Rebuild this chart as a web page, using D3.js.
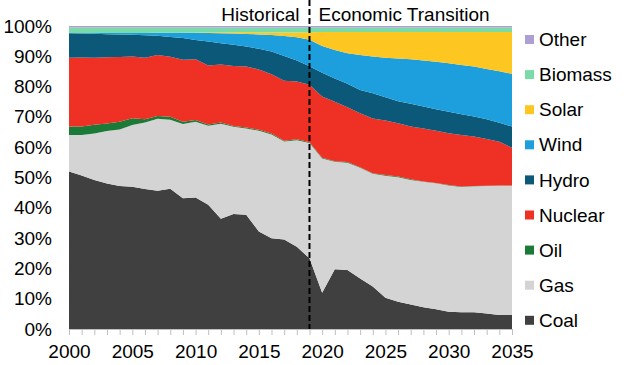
<!DOCTYPE html>
<html>
<head>
<meta charset="utf-8">
<script src="https://cdn.jsdelivr.net/npm/d3@7"></script>
<style>
  body { margin: 0; background: #fff; }
  text { font-family: Arial, "Liberation Sans", sans-serif; fill: #000; }
</style>
</head>
<body>
<script>
// data, shares of generation in %
var years = d3.range(2000, 2036);
var sources = ["Coal", "Gas", "Oil", "Nuclear", "Hydro", "Wind", "Solar", "Biomass", "Other"];
var colors = ["#404040", "#d4d4d4", "#1b7a37", "#ee3124", "#0b5878", "#1c9fdc", "#fdc620", "#7bdba8", "#ad9fd4"];

var coal = [52.0,50.8,49.4,48.3,47.5,47.2,46.4,45.7,46.4,43.3,43.5,41.1,36.5,38.0,37.7,32.1,29.9,29.4,27.0,23.3,
            12.0,19.7,19.5,16.7,14.0,10.3,9.0,8.1,7.2,6.5,5.7,5.5,5.5,5.1,4.6,4.6];
var gas = [12.0,13.4,15.4,17.4,18.7,20.5,22.0,23.8,22.9,24.6,25.1,26.2,31.4,28.8,28.5,33.2,34.1,32.2,35.0,38.0,
           44.3,35.5,35.4,36.5,37.2,40.3,41.1,41.1,41.4,41.6,41.7,41.4,41.6,42.1,42.7,42.7];
var oil = [2.8,2.8,2.9,2.5,2.6,2.2,1.1,0.9,1.0,0.7,0.6,0.4,0.4,0.3,0.3,0.3,0.3,0.3,0.3,0.3,
           0.2,0.2,0.2,0.2,0.2,0.2,0.2,0.2,0.1,0.1,0.1,0.1,0.1,0.1,0.1,0.1];
var nuclear = [22.7,22.9,22.2,21.9,21.5,20.5,20.4,20.2,19.8,20.5,20.1,19.5,19.2,19.8,20.1,19.9,19.5,19.7,19.0,18.9,
               20.2,19.6,18.1,17.8,18.1,18.0,17.6,17.4,17.5,17.2,17.1,17.0,16.3,15.4,14.4,12.4];
var hydro = [8.1,7.9,7.9,7.7,7.5,7.2,7.4,6.4,6.6,7.2,6.4,8.0,7.0,7.0,6.6,6.8,7.5,8.1,6.9,6.1,
             7.9,7.7,7.7,7.7,8.3,7.7,7.3,7.5,7.2,7.1,7.1,6.9,6.6,6.5,6.3,7.0];
var wind = [0.1,0.2,0.3,0.4,0.5,0.6,0.8,1.0,1.4,1.8,2.3,2.8,3.3,3.7,4.2,4.7,5.4,6.6,7.6,8.8,
            8.8,9.4,10.1,11.5,12.1,13.0,14.1,14.7,15.2,15.7,16.0,16.2,16.5,16.6,17.0,17.4];
var solar = [0,0,0,0,0,0,0,0,0,0,0.1,0.2,0.3,0.4,0.5,0.7,0.9,1.2,1.6,2.4,
             4.6,5.9,7.0,7.6,8.1,8.5,8.7,9.0,9.4,9.8,10.3,10.9,11.4,12.2,12.9,13.8];
var biomass = [1.8,1.8,1.8,1.8,1.8,1.8,1.8,1.7,1.7,1.7,1.7,1.6,1.6,1.6,1.6,1.6,1.6,1.6,1.6,1.6,
               1.5,1.5,1.5,1.5,1.5,1.5,1.5,1.5,1.5,1.5,1.5,1.5,1.5,1.5,1.5,1.5];
var other = [0.5,0.5,0.5,0.5,0.5,0.5,0.5,0.5,0.5,0.5,0.5,0.5,0.5,0.5,0.5,0.5,0.5,0.5,0.5,0.5,
             0.5,0.5,0.5,0.5,0.5,0.5,0.5,0.5,0.5,0.5,0.5,0.5,0.5,0.5,0.5,0.5];
var xLabels = [2000, 2005, 2010, 2015, 2020, 2025, 2030, 2035];
var yLabels = [0, 0.1, 0.2, 0.3, 0.4, 0.5, 0.6, 0.7, 0.8, 0.9, 1.0];
var splitYear = 2019;

var series = [coal, gas, oil, nuclear, hydro, wind, solar, biomass, other];
var table = years.map(function(yr, i){
    var row = {year: yr};
    sources.forEach(function(s, j){ row[s] = series[j][i]; });
    return row;
});

var svg = d3.select("body").append("svg")
            .attr("width", 624)
            .attr("height", 365);

var x = d3.scaleLinear().domain([2000, 2035]).range([69, 512]);
var y = d3.scaleLinear().domain([0, 1]).range([329, 26]);
var color = d3.scaleOrdinal().domain(sources).range(colors);

var stack = d3.stack().keys(sources).offset(d3.stackOffsetExpand);
var layers = stack(table);

var area = d3.area()
             .x(function(d){ return x(d.data.year); })
             .y0(function(d){ return y(d[0]); })
             .y1(function(d){ return y(d[1]); });

svg.append("g").selectAll("path")
   .data(layers)
   .enter().append("path")
     .attr("fill", function(d){ return color(d.key); })
     .attr("d", area);

// y axis, labels only
var yAxis = svg.append("g")
               .attr("transform", "translate(69,0)")
               .call(d3.axisLeft(y).tickValues(yLabels).tickSize(0).tickPadding(17)
                       .tickFormat(d3.format(".0%")));
yAxis.select(".domain").remove();
yAxis.selectAll("text").style("font-size", "19px");

// x axis with a tick every year
var xAxis = svg.append("g")
               .attr("transform", "translate(0,329)")
               .call(d3.axisBottom(x).tickValues(years).tickSize(6).tickPadding(10)
                       .tickFormat(function(d){ return xLabels.indexOf(d) >= 0 ? d : ""; }));
xAxis.select(".domain").attr("stroke", "#bfbfbf");
xAxis.selectAll(".tick line").attr("stroke", "#bfbfbf");
xAxis.selectAll("text").style("font-size", "19px");

// split between history and projection
svg.append("line")
   .attr("x1", x(splitYear)).attr("x2", x(splitYear))
   .attr("y1", 0).attr("y2", 329)
   .attr("stroke", "#000")
   .attr("stroke-width", 2)
   .attr("stroke-dasharray", "6,3");

svg.append("text")
   .attr("x", x(splitYear) - 10).attr("y", 21)
   .attr("text-anchor", "end")
   .style("font-size", "19px")
   .text("Historical");
svg.append("text")
   .attr("x", x(splitYear) + 9).attr("y", 21)
   .style("font-size", "19px")
   .text("Economic Transition");

// legend, top item is Other
var legendKeys = sources.slice().reverse();
var legend = svg.append("g").selectAll("g")
                .data(legendKeys)
                .enter().append("g")
                  .attr("transform", function(d, i){ return "translate(525," + (39.5 + i * 35.1) + ")"; });
legend.append("rect")
      .attr("x", 0).attr("y", -4.5)
      .attr("width", 9).attr("height", 9)
      .attr("fill", function(d){ return color(d); });
legend.append("text")
      .attr("x", 14).attr("y", 0)
      .attr("dy", "0.35em")
      .style("font-size", "19px")
      .text(function(d){ return d; });
</script>
</body>
</html>
